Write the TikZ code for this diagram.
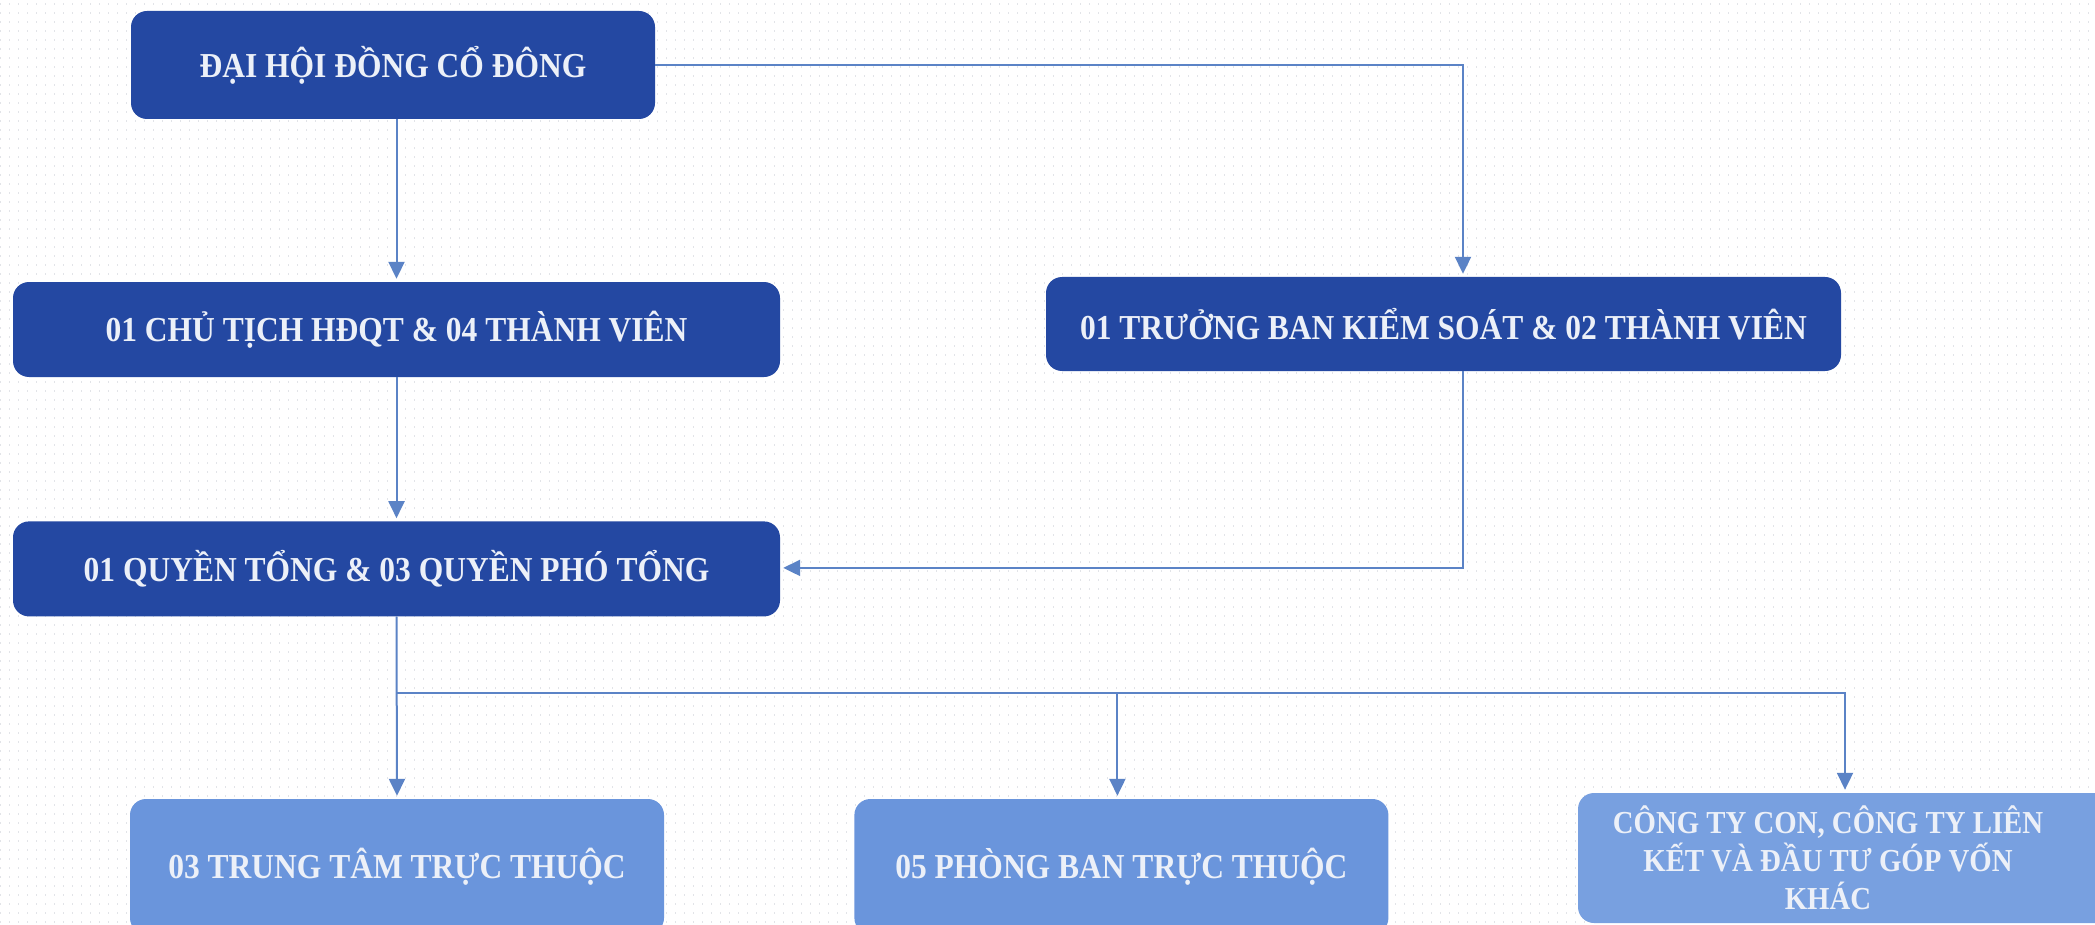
\documentclass[tikz,border=0pt]{standalone}
\usepackage{fontspec}
\newfontfamily\boxfont{Liberation Serif}[FakeStretch=0.9]
\usetikzlibrary{arrows.meta, positioning}
\definecolor{darkbox}{RGB}{36,72,162}
\definecolor{lightbox}{RGB}{106,149,220}
\definecolor{palebox}{RGB}{120,160,224}
\definecolor{linkcol}{RGB}{91,131,198}
\definecolor{labelcol}{RGB}{236,240,248}
\definecolor{gridcol}{RGB}{226,228,232}

\begin{document}
\begin{tikzpicture}[x=1pt, y=-1pt,
    unit/.style={rectangle, rounded corners=16pt, text=labelcol, align=center, inner sep=0pt,
        font=\boxfont\bfseries\fontsize{35}{40}\selectfont},
    board/.style={unit, fill=darkbox},
    dept/.style={unit, fill=lightbox},
    link/.style={draw=linkcol, line width=1.6pt},
    feed/.style={link, line width=2pt, shorten >=3pt, -{Triangle[width=16pt, length=17pt]}}]
    \useasboundingbox (0,0) rectangle (2095,925);
    \clip (0,0) rectangle (2095,925);
    \fill[white] (0,0) rectangle (2095,925);
    % dot grid
    \foreach \r in {4,13,...,922}
        \draw[gridcol, line width=1.4pt, dash pattern=on 1.4pt off 7.6pt] (0,\r) -- (2095,\r);

    \node[board, minimum width=524pt, minimum height=108pt]	(agm)	at (393,65)		{ĐẠI HỘI ĐỒNG CỔ ĐÔNG};
    \node[board, minimum width=767pt, minimum height=95pt]	(hdqt)	at (396.5,329.5)	{01 CHỦ TỊCH HĐQT \& 04 THÀNH VIÊN};
    \node[board, minimum width=795pt, minimum height=94pt]	(bks)	at (1443.5,324)	{01 TRƯỞNG BAN KIỂM SOÁT \& 02 THÀNH VIÊN};
    \node[board, minimum width=767pt, minimum height=95pt]	(bgd)	[below=144pt of hdqt]	{01 QUYỀN TỔNG \& 03 QUYỀN PHÓ TỔNG};
    \node[dept, minimum width=534pt, minimum height=135pt]	(ttam)	at (397,866.5)	{03 TRUNG TÂM TRỰC THUỘC};
    \node[dept, minimum width=534pt, minimum height=135pt]	(pban)	[right=190pt of ttam]	{05 PHÒNG BAN TRỰC THUỘC};
    % box runs past the right edge, text sits left of its centre
    \node[dept, fill=palebox, minimum width=540pt, minimum height=130pt,
        label={[xshift=-20pt, text=labelcol, align=center,
            font=\boxfont\bfseries\fontsize{32}{38}\selectfont]center:{CÔNG TY CON, CÔNG TY LIÊN\\KẾT VÀ ĐẦU TƯ GÓP VỐN\\KHÁC}}]
        (cty)	at (1848,858)	{};

    \coordinate[below=76pt of bgd.south] (split);

    \draw[feed]	(agm.south -| hdqt.north)	--	(hdqt.north);
    \draw[feed]	(agm.east)	-|	([xshift=19.5pt]bks.north);
    \draw[feed]	(hdqt.south)	--	(bgd.north);
    \draw[feed]	([xshift=19pt]bks.south)	|-	([yshift=1pt]bgd.east);
    \draw[feed]	(bgd.south)	--	(ttam.north);
    \draw[feed]	(split)	-|	([xshift=-4pt]pban.north);
    \draw[feed]	(split)	-|	([xshift=-3pt]cty.north);
\end{tikzpicture}
\end{document}
